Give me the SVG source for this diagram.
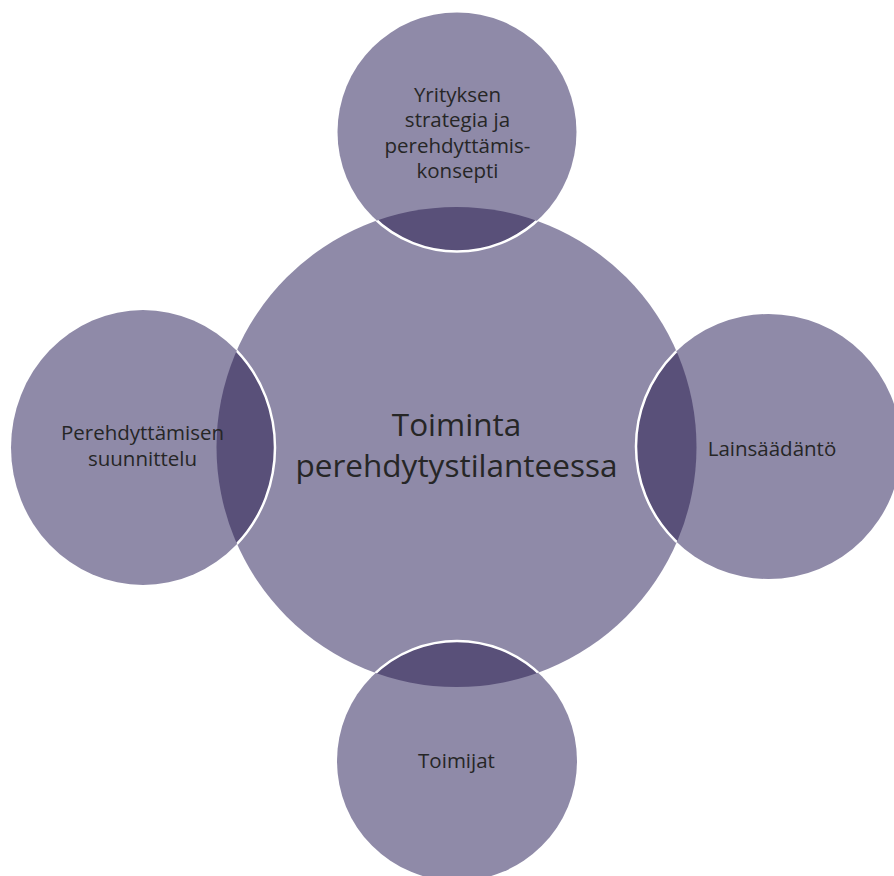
<svg xmlns="http://www.w3.org/2000/svg" width="894" height="876" viewBox="0 0 894 876">
  <style>
    .fill { fill: #8f8aa8; }
    .lens { fill: #595079; }
    .rim { fill: none; stroke: #ffffff; stroke-width: 2.5; }
    .lbl { font-family: "Open Sans", "Noto Sans", "Liberation Sans", sans-serif; fill: #262626; text-anchor: middle; }
    .sat { font-size: 20.5px; }
    .hub { font-size: 31.5px; }
  </style>
  <defs>
    <!-- the hub disc, used to cut the overlap lenses and rims -->
    <clipPath id="hubClip">
      <circle cx="456.5" cy="447" r="240"/>
    </clipPath>
    <circle id="shapeTop" cx="457" cy="132" r="119.5"/>
    <circle id="shapeRight" cx="768.5" cy="446.5" r="132.5"/>
    <circle id="shapeBottom" cx="457" cy="761" r="120"/>
    <ellipse id="shapeLeft" cx="143" cy="447.5" rx="132" ry="137.5"/>
  </defs>

  <rect width="894" height="876" fill="#ffffff"/>

  <g id="hub">
    <circle class="fill" cx="456.5" cy="447" r="240"/>
  </g>

  <g id="node-top">
    <use href="#shapeTop" class="fill"/>
  </g>
  <g id="node-right">
    <use href="#shapeRight" class="fill"/>
  </g>
  <g id="node-bottom">
    <use href="#shapeBottom" class="fill"/>
  </g>
  <g id="node-left">
    <use href="#shapeLeft" class="fill"/>
  </g>

  <!-- darker overlap where each outer circle covers the hub, with a white rim -->
  <g id="overlaps" clip-path="url(#hubClip)">
    <use href="#shapeTop" class="lens"/>
    <use href="#shapeRight" class="lens"/>
    <use href="#shapeBottom" class="lens"/>
    <use href="#shapeLeft" class="lens"/>
    <use href="#shapeTop" class="rim"/>
    <use href="#shapeRight" class="rim"/>
    <use href="#shapeBottom" class="rim"/>
    <use href="#shapeLeft" class="rim"/>
  </g>

  <g id="labels">
    <text class="lbl hub" x="456.5" y="436">Toiminta</text>
    <text class="lbl hub" x="456.5" y="477">perehdytystilanteessa</text>

    <text class="lbl sat" x="457.5" y="101.5">Yrityksen</text>
    <text class="lbl sat" x="457.5" y="127">strategia ja</text>
    <text class="lbl sat" x="457.5" y="152.5">perehdyttämis-</text>
    <text class="lbl sat" x="457.5" y="178">konsepti</text>

    <text class="lbl sat" x="142.5" y="439.5">Perehdyttämisen</text>
    <text class="lbl sat" x="142.5" y="466">suunnittelu</text>

    <text class="lbl sat" x="772" y="456">Lainsäädäntö</text>

    <text class="lbl sat" x="456.5" y="768">Toimijat</text>
  </g>
</svg>
